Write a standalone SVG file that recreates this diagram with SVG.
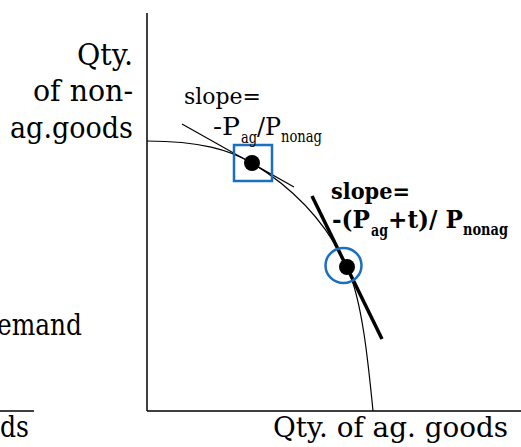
<svg xmlns="http://www.w3.org/2000/svg" width="521" height="447" viewBox="0 0 521 447">
<style>
text{font-family:'DejaVu Serif',serif;fill:#000}
.b{font-weight:bold}
.ax{stroke:#000;stroke-width:1.5;fill:none}
.thin{stroke:#000;stroke-width:1.2;fill:none}
.hl{stroke:#1a6fc0;stroke-width:2.5;fill:none}
</style>
<rect width="521" height="447" fill="#fff"/>
<g id="left-panel">
<text x="82" y="335" font-size="30" text-anchor="end" textLength="85" lengthAdjust="spacingAndGlyphs">emand</text>
<line class="ax" x1="0" y1="411" x2="34" y2="411"/>
<text x="29" y="437" font-size="30" text-anchor="end" textLength="29" lengthAdjust="spacingAndGlyphs">ds</text>
</g>
<g id="axes">
<line class="ax" x1="147" y1="13" x2="147" y2="411"/>
<line class="ax" x1="147" y1="411" x2="521" y2="411"/>
</g>
<g id="y-label">
<text x="133" y="65" font-size="30" text-anchor="end" textLength="56" lengthAdjust="spacingAndGlyphs">Qty.</text>
<text x="133" y="101" font-size="30" text-anchor="end" textLength="100" lengthAdjust="spacingAndGlyphs">of non-</text>
<text x="133" y="138" font-size="30" text-anchor="end" textLength="123" lengthAdjust="spacingAndGlyphs">ag.goods</text>
</g>
<g id="x-label">
<text x="273" y="437" font-size="28" textLength="235" lengthAdjust="spacingAndGlyphs">Qty. of ag. goods</text>
</g>
<g id="connectors">
<path class="thin" d="M147,141 C200,141 230,150 252,163 C300,192 330,230 347,267 C362,300 368,360 373,411"/>
<line class="thin" x1="182" y1="124" x2="294" y2="187"/>
<line stroke="#000" stroke-width="3.5" x1="312" y1="196" x2="382" y2="339"/>
</g>
<g id="point1">
<circle cx="252" cy="163" r="8" fill="#000"/>
<rect class="hl" x="234" y="145" width="38" height="36"/>
</g>
<g id="point2">
<circle cx="347" cy="267" r="8" fill="#000"/>
<ellipse class="hl" cx="343.5" cy="265.5" rx="18" ry="17.5"/>
</g>
<g id="label1">
<text x="184" y="104" font-size="23" textLength="77" lengthAdjust="spacingAndGlyphs">slope=</text>
<text x="213" y="135" font-size="24" textLength="27" lengthAdjust="spacingAndGlyphs">-P</text>
<text x="241" y="143" font-size="16" textLength="16" lengthAdjust="spacingAndGlyphs">ag</text>
<text x="257" y="135" font-size="24" textLength="24" lengthAdjust="spacingAndGlyphs">/P</text>
<text x="281" y="142" font-size="16" textLength="41" lengthAdjust="spacingAndGlyphs">nonag</text>
</g>
<g id="label2">
<text class="b" x="331" y="199" font-size="23" textLength="79" lengthAdjust="spacingAndGlyphs">slope=</text>
<text class="b" x="332" y="228" font-size="24" textLength="38" lengthAdjust="spacingAndGlyphs">-(P</text>
<text class="b" x="371" y="236" font-size="16" textLength="17" lengthAdjust="spacingAndGlyphs">ag</text>
<text class="b" x="388" y="228" font-size="24" textLength="75" lengthAdjust="spacingAndGlyphs">+t)/ P</text>
<text class="b" x="463" y="235" font-size="16" textLength="45" lengthAdjust="spacingAndGlyphs">nonag</text>
</g>
</svg>
